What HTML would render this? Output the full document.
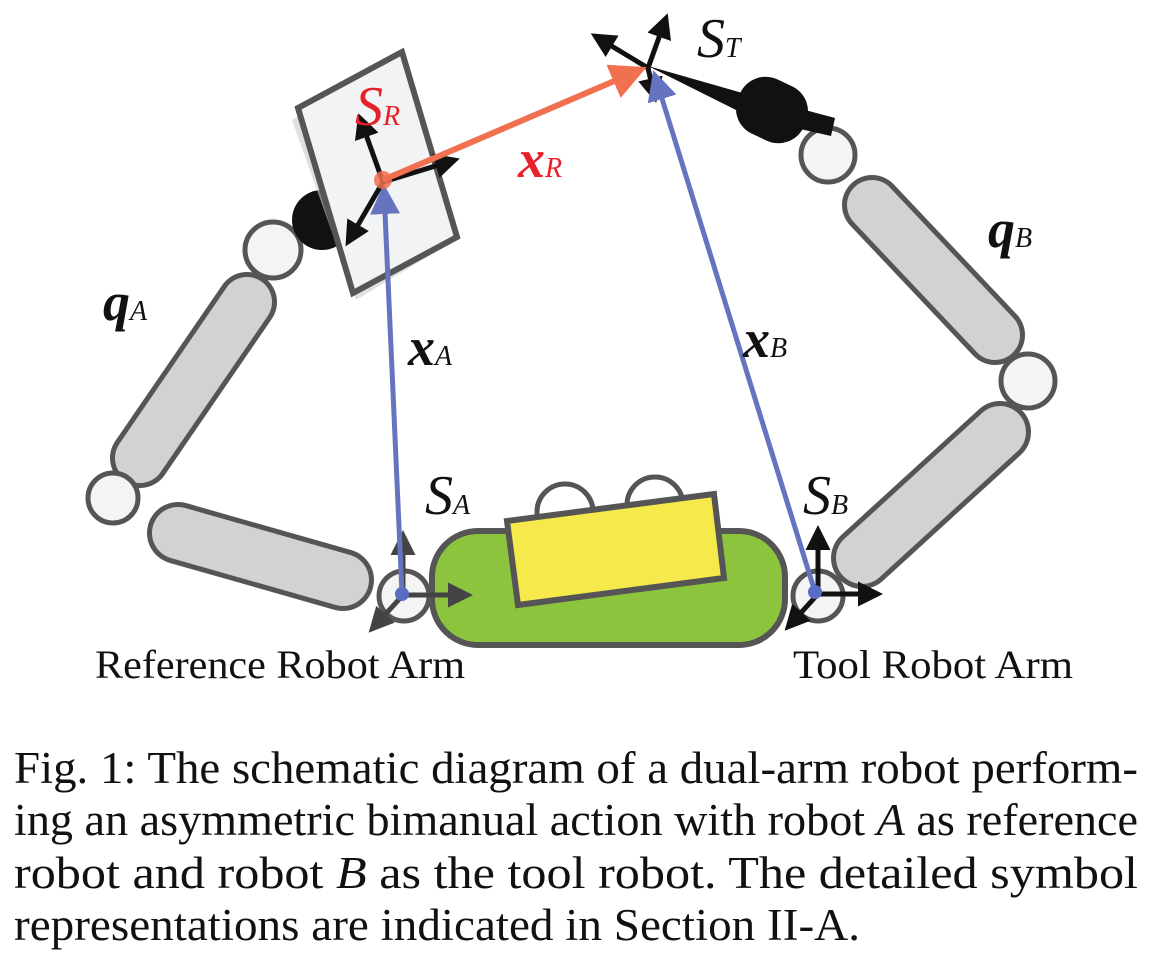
<!DOCTYPE html>
<html><head><meta charset="utf-8"><style>
html,body{margin:0;padding:0;background:#fff}
svg{display:block}
</style></head><body>
<svg width="1149" height="977" viewBox="0 0 1149 977" xmlns="http://www.w3.org/2000/svg">
<defs>
<marker id="ab" viewBox="0 0 10 10" refX="8" refY="5" markerWidth="5" markerHeight="5" orient="auto"><path d="M0,0 L10,5 L0,10 z" fill="#111"/></marker>
<marker id="ag" viewBox="0 0 10 10" refX="8" refY="5" markerWidth="5" markerHeight="5" orient="auto"><path d="M0,0 L10,5 L0,10 z" fill="#444"/></marker>
<marker id="abl" viewBox="0 0 10 10" refX="8" refY="5" markerWidth="6" markerHeight="6" orient="auto"><path d="M0,0 L10,5 L0,10 z" fill="#6674c0"/></marker>
<marker id="ar" viewBox="0 0 10 10" refX="8" refY="5" markerWidth="6" markerHeight="6" orient="auto"><path d="M0,0 L10,5 L0,10 z" fill="#f07050"/></marker>
</defs>
<g stroke-linecap="round">
<line x1="178" y1="533" x2="343" y2="580" stroke="#555" stroke-width="62"/>
<line x1="178" y1="533" x2="343" y2="580" stroke="#d2d2d2" stroke-width="52"/>
<line x1="247" y1="302" x2="140" y2="458" stroke="#555" stroke-width="60"/>
<line x1="247" y1="302" x2="140" y2="458" stroke="#d2d2d2" stroke-width="50"/>
<line x1="872" y1="205" x2="995" y2="335" stroke="#555" stroke-width="60"/>
<line x1="872" y1="205" x2="995" y2="335" stroke="#d2d2d2" stroke-width="50"/>
<line x1="1000" y1="432" x2="862" y2="558" stroke="#555" stroke-width="62"/>
<line x1="1000" y1="432" x2="862" y2="558" stroke="#d2d2d2" stroke-width="52"/>
</g>
<g fill="#f4f4f4" stroke="#555" stroke-width="5">
<circle cx="113" cy="498" r="25"/>
<circle cx="273" cy="250" r="28"/>
<circle cx="828" cy="155" r="27"/>
<circle cx="1028" cy="381" r="27"/>
<circle cx="404" cy="596" r="25"/>
<circle cx="818" cy="596" r="25"/>
</g>
<circle cx="322" cy="220" r="30" fill="#111"/>
<polygon points="292,120 398,58 452,242 356,300" fill="#ccc" opacity="0.6"/>
<polygon points="298,108 402,52 457,237 353,293" fill="#f2f3f4" stroke="#555" stroke-width="6"/>
<circle cx="565" cy="512" r="28" fill="#fff" stroke="#555" stroke-width="5"/>
<circle cx="655" cy="505" r="28" fill="#fff" stroke="#555" stroke-width="5"/>
<rect x="432" y="531" width="353" height="114" rx="46" fill="#8cc43e" stroke="#555" stroke-width="6"/>
<polygon points="507,521 714,494 724,578 518,605" fill="#f5e94c" stroke="#555" stroke-width="6"/>
<rect x="736" y="80" width="72" height="60" rx="28" transform="rotate(25 772 110)" fill="#111"/>
<polygon points="648,66 760,98 835,118 831,136 752,118" fill="#111"/>
<g stroke="#111" stroke-width="5" fill="none">
<line x1="383" y1="182" x2="360" y2="118" marker-end="url(#ab)"/>
<line x1="383" y1="182" x2="348" y2="242" marker-end="url(#ab)"/>
<line x1="383" y1="182" x2="455" y2="160" marker-end="url(#ab)"/>
<line x1="648" y1="68" x2="595" y2="36" marker-end="url(#ab)"/>
<line x1="648" y1="68" x2="666" y2="18" marker-end="url(#ab)"/>
<line x1="648" y1="68" x2="655" y2="98" marker-end="url(#ab)"/>
<line x1="818" y1="594" x2="818" y2="530" marker-end="url(#ab)"/>
<line x1="818" y1="594" x2="878" y2="594" marker-end="url(#ab)"/>
<line x1="818" y1="594" x2="788" y2="627" marker-end="url(#ab)"/>
</g>
<g stroke="#444" stroke-width="5" fill="none">
<line x1="403" y1="595" x2="403" y2="535" marker-end="url(#ag)"/>
<line x1="403" y1="595" x2="468" y2="595" marker-end="url(#ag)"/>
<line x1="403" y1="595" x2="372" y2="629" marker-end="url(#ag)"/>
</g>
<line x1="402" y1="594" x2="384" y2="190" stroke="#6674c0" stroke-width="5" marker-end="url(#abl)"/>
<line x1="815" y1="592" x2="655" y2="76" stroke="#6674c0" stroke-width="5" marker-end="url(#abl)"/>
<circle cx="402" cy="594" r="7" fill="#5b6cc4"/>
<circle cx="815" cy="592" r="7" fill="#5b6cc4"/>
<line x1="383" y1="180" x2="640" y2="70" stroke="#f07050" stroke-width="6" marker-end="url(#ar)"/>
<circle cx="383" cy="180" r="9" fill="#f07050" opacity="0.85"/>
<g font-family="Liberation Serif, serif" font-style="italic">
<text x="355" y="125" font-size="56" fill="#e8202a">S<tspan font-size="28">R</tspan></text>
<text x="518" y="177" font-size="54" font-weight="bold" fill="#e8202a">x<tspan font-size="28" font-weight="normal">R</tspan></text>
<text x="697" y="57" font-size="56" fill="#111">S<tspan font-size="28">T</tspan></text>
<text x="103" y="320" font-size="54" font-weight="bold" fill="#111">q<tspan font-size="28" font-weight="normal">A</tspan></text>
<text x="408" y="365" font-size="54" font-weight="bold" fill="#111">x<tspan font-size="28" font-weight="normal">A</tspan></text>
<text x="988" y="247" font-size="54" font-weight="bold" fill="#111">q<tspan font-size="28" font-weight="normal">B</tspan></text>
<text x="743" y="357" font-size="54" font-weight="bold" fill="#111">x<tspan font-size="28" font-weight="normal">B</tspan></text>
<text x="425" y="514" font-size="56" fill="#111">S<tspan font-size="28">A</tspan></text>
<text x="803" y="514" font-size="56" fill="#111">S<tspan font-size="28">B</tspan></text>
</g>
<g font-family="Liberation Serif, serif" fill="#111">
<text x="95" y="678" font-size="40" textLength="370" lengthAdjust="spacingAndGlyphs">Reference Robot Arm</text>
<text x="793" y="678" font-size="40" textLength="280" lengthAdjust="spacingAndGlyphs">Tool Robot Arm</text>
<text x="14" y="783" font-size="45" textLength="1124" lengthAdjust="spacingAndGlyphs">Fig. 1: The schematic diagram of a dual-arm robot perform-</text>
<text x="14" y="835" font-size="45" textLength="1124" lengthAdjust="spacingAndGlyphs">ing an asymmetric bimanual action with robot <tspan font-style="italic">A</tspan> as reference</text>
<text x="14" y="888" font-size="45" textLength="1124" lengthAdjust="spacingAndGlyphs">robot  and  robot  <tspan font-style="italic">B</tspan>  as  the  tool  robot.  The  detailed  symbol</text>
<text x="14" y="940" font-size="45" textLength="846" lengthAdjust="spacingAndGlyphs">representations are indicated in Section II-A.</text>
</g>
</svg>
</body></html>
